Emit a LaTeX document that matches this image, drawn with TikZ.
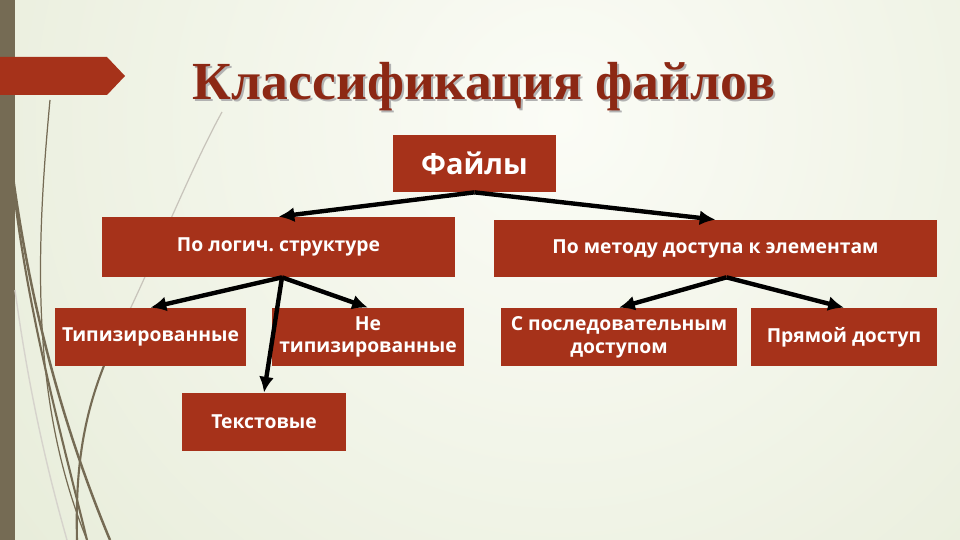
\documentclass[tikz,border=0pt]{standalone}
\usepackage{fontspec}
\setmainfont{Liberation Serif}
\setsansfont{Open Sans}
\usetikzlibrary{arrows.meta}
\definecolor{boxred}{RGB}{166,50,26}
\definecolor{titlered}{RGB}{140,40,20}
\definecolor{stripe}{RGB}{117,107,84}
\definecolor{bgouter}{RGB}{222,229,204}
\definecolor{bginner}{RGB}{251,252,246}
\begin{document}
\begin{tikzpicture}[x=0.02cm, y=-0.02cm,
    category/.style ={rectangle, fill=boxred, text=white, align=center, inner sep=0pt,
      font=\sffamily\bfseries\fontsize{11}{13}\selectfont, minimum height=1.16cm},
    link/.style ={line width=2.5pt, -{Latex[length=9pt,width=8.5pt]}}]
   \useasboundingbox (0,0) rectangle (960,540);
   \begin{scope}
     \clip (0,0) rectangle (960,540);
     \fill[bgouter] (0,0) rectangle (960,540);
     \shade[inner color=bginner, outer color=bgouter] (560,120) circle (21cm);
   \end{scope}
   \fill[stripe] (0,0) rectangle (15,540);
   \draw[stripe, line width=0.7pt] (50,100) .. controls (36,250) and (30,400) .. (87,540);
   \draw[stripe, line width=1.4pt] (13,177) .. controls (30,300) and (60,420) .. (110,540);
   \draw[stripe, line width=1.2pt] (15,200) .. controls (30,320) and (60,430) .. (87,540);
   \draw[stripe, line width=1.2pt] (77,540) .. controls (75,460) and (85,400) .. (120,330);
   \draw[stripe!40, line width=0.7pt] (120,330) .. controls (150,270) and (190,170) .. (222,112);
   \draw[stripe!30, line width=0.8pt] (15,290) .. controls (30,400) and (50,480) .. (67,540);
   \fill[boxred] (0,57) -- (107,57) -- (125,76) -- (107,95) -- (0,95) -- cycle;
   \node[text=black!30, font=\bfseries\fontsize{30.5}{36}\selectfont, anchor=base] at (486,102) {Классификация файлов};
   \node[text=titlered, font=\bfseries\fontsize{30.5}{36}\selectfont, anchor=base] (title) at (484,100) {Классификация файлов};
   \node[category, minimum width=3.26cm, minimum height=1.14cm, font=\sffamily\bfseries\fontsize{16.5}{19}\selectfont] (files) at (474.5,163.5) {Файлы};
   \node[category, minimum width=7.06cm, minimum height=1.2cm] (logic) at (278.5,247) {По логич.\ структуре};
   \node[category, minimum width=8.86cm, minimum height=1.14cm] (access) at (715.5,248.5) {По методу доступа к элементам};
   \node[category, minimum width=3.82cm] (typed) at (150.5,337) {Типизированные};
   \node[category, minimum width=3.84cm] (untyped) at (368,337) {Не\\типизированные};
   \node[category, minimum width=3.28cm] (plain) at (264,422) {Текстовые};
   \node[category, minimum width=4.72cm] (seq) at (619,337) {С последовательным\\доступом};
   \node[category, minimum width=3.72cm] (direct) at (844,337) {Прямой доступ};
   \draw[link] (files.south) to (logic.north);
   \draw[link] (files.south) to (access.north);
   \draw[link] ([xshift=0.07cm]logic.south) to (typed.north);
   \draw[link] ([xshift=0.07cm]logic.south) to (untyped.north);
   \draw[link] ([xshift=0.07cm]logic.south) to (plain.north);
   \draw[link] ([xshift=0.22cm]access.south) to (seq.north);
   \draw[link] ([xshift=0.22cm]access.south) to (direct.north);
 \end{tikzpicture}
\end{document}
